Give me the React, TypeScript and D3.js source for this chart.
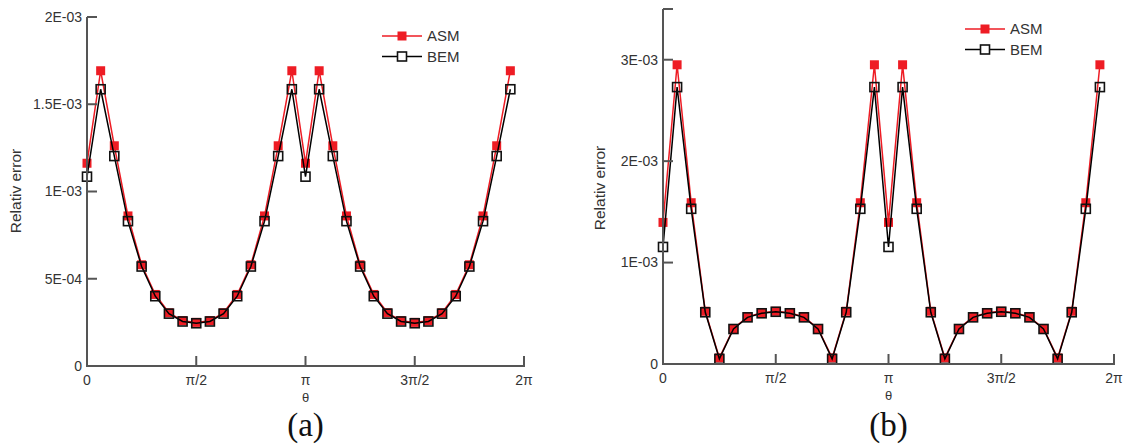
import React from "react";
import * as d3 from "d3";

// theta / pi for each sample point
const thetaOverPi = [
  0, 0.0625, 0.125, 0.1875, 0.25, 0.3125, 0.375, 0.4375, 0.5, 0.5625, 0.625, 0.6875, 0.75, 0.8125, 0.875, 0.9375,
  1, 1.0625, 1.125, 1.1875, 1.25, 1.3125, 1.375, 1.4375, 1.5, 1.5625, 1.625, 1.6875, 1.75, 1.8125, 1.875, 1.9375,
];

// (a) relative error, units of 1e-3
const asmA = [
  1.162, 1.692, 1.262, 0.86, 0.58, 0.41, 0.305, 0.26, 0.25, 0.26, 0.305, 0.41, 0.58, 0.86, 1.262, 1.692,
  1.162, 1.692, 1.262, 0.86, 0.58, 0.41, 0.305, 0.26, 0.25, 0.26, 0.305, 0.41, 0.58, 0.86, 1.262, 1.692,
];
const bemA = [
  1.085, 1.586, 1.203, 0.83, 0.57, 0.4, 0.3, 0.255, 0.245, 0.255, 0.3, 0.4, 0.57, 0.83, 1.203, 1.586,
  1.085, 1.586, 1.203, 0.83, 0.57, 0.4, 0.3, 0.255, 0.245, 0.255, 0.3, 0.4, 0.57, 0.83, 1.203, 1.586,
];

// (b) relative error, units of 1e-3
const asmB = [
  1.396, 2.95, 1.59, 0.52, 0.06, 0.35, 0.465, 0.505, 0.52, 0.505, 0.465, 0.35, 0.06, 0.52, 1.59, 2.95,
  1.396, 2.95, 1.59, 0.52, 0.06, 0.35, 0.465, 0.505, 0.52, 0.505, 0.465, 0.35, 0.06, 0.52, 1.59, 2.95,
];
const bemB = [
  1.154, 2.73, 1.53, 0.51, 0.05, 0.345, 0.46, 0.5, 0.515, 0.5, 0.46, 0.345, 0.05, 0.51, 1.53, 2.73,
  1.154, 2.73, 1.53, 0.51, 0.05, 0.345, 0.46, 0.5, 0.515, 0.5, 0.46, 0.345, 0.05, 0.51, 1.53, 2.73,
];

const xTickValues = [0, 0.5, 1, 1.5, 2];
const xTickLabels = ["0", "π/2", "π", "3π/2", "2π"];
const yTicksA = [0, 0.5, 1, 1.5, 2];
const yTickLabelsA = ["0", "5E-04", "1E-03", "1.5E-03", "2E-03"];
const yTicksB = [0, 1, 2, 3, 3.5];
const yTickLabelsB = ["0", "1E-03", "2E-03", "3E-03", ""];
const seriesNames = ["ASM", "BEM"];

const RED = "#ee1c24";
const AXIS = "#555";
const TEXT = "#333";
const SANS = "'Liberation Sans', Arial, Helvetica, sans-serif";

type PanelProps = {
  x0: number;
  x1: number;
  y0: number;
  y1: number;
  yMax: number;
  asm: number[];
  bem: number[];
  yTicks: number[];
  yLabels: string[];
  legendX: number;
  legendY: number;
  titleX: number;
  titleY: number;
  tag: string;
};

function Panel(p: PanelProps) {
  const xs = d3.scaleLinear().domain([0, 2]).range([p.x0, p.x1]);
  const ys = d3.scaleLinear().domain([0, p.yMax]).range([p.y0, p.y1]);
  const line = d3
    .line<number>()
    .x((_, i) => xs(thetaOverPi[i]))
    .y((d) => ys(d));
  const tick = 10;
  const legRow = 20.5;
  return (
    <g>
      {/* series */}
      <path d={line(p.asm) || ""} fill="none" stroke={RED} strokeWidth={1.5} />
      {p.asm.map((v, i) => (
        <rect key={"a" + i} x={xs(thetaOverPi[i]) - 4.5} y={ys(v) - 4.5} width={9} height={9} fill={RED} />
      ))}
      <path d={line(p.bem) || ""} fill="none" stroke="#000" strokeWidth={1.5} />
      {p.bem.map((v, i) => (
        <rect
          key={"b" + i}
          x={xs(thetaOverPi[i]) - 4.5}
          y={ys(v) - 4.5}
          width={9}
          height={9}
          fill="none"
          stroke="#111"
          strokeWidth={1.6}
        />
      ))}
      {/* axes */}
      <line x1={p.x0} x2={p.x0} y1={p.y0 + 1} y2={ys(p.yMax)} stroke={AXIS} strokeWidth={2} />
      <line x1={p.x0 - 1} x2={p.x1 + 1} y1={p.y0} y2={p.y0} stroke={AXIS} strokeWidth={2} />
      {p.yTicks.map((t, i) => (
        <g key={"yt" + i}>
          {t > 0 && <line x1={p.x0} x2={p.x0 + tick} y1={ys(t)} y2={ys(t)} stroke={AXIS} strokeWidth={2} />}
          <text
            x={p.x0 - 5}
            y={ys(t)}
            dy="0.35em"
            textAnchor="end"
            fontFamily={SANS}
            fontSize={14}
            fill={TEXT}
          >
            {p.yLabels[i]}
          </text>
        </g>
      ))}
      {xTickValues.map((t, i) => (
        <g key={"xt" + i}>
          {t > 0 && <line x1={xs(t)} x2={xs(t)} y1={p.y0} y2={p.y0 - tick} stroke={AXIS} strokeWidth={2} />}
          <text x={xs(t)} y={p.y0 + 19} textAnchor="middle" fontFamily={SANS} fontSize={14} fill={TEXT}>
            {xTickLabels[i]}
          </text>
        </g>
      ))}
      <text
        transform={`translate(${p.titleX},${p.titleY}) rotate(-90)`}
        textAnchor="middle"
        fontFamily={SANS}
        fontSize={15.5}
        fill={TEXT}
      >
        Relativ error
      </text>
      <text x={xs(1)} y={p.y0 + 36} textAnchor="middle" fontFamily={SANS} fontSize={13} fill={TEXT}>
        θ
      </text>
      <text x={xs(1)} y={436} textAnchor="middle" fontFamily="'Liberation Serif', 'Times New Roman', serif" fontSize={33} fill="#111">
        {p.tag}
      </text>
      {/* legend */}
      {seriesNames.map((name, i) => {
        const ly = p.legendY + i * legRow;
        const isAsm = i === 0;
        return (
          <g key={name}>
            <line x1={p.legendX} x2={p.legendX + 40} y1={ly} y2={ly} stroke={isAsm ? RED : "#000"} strokeWidth={1.6} />
            {isAsm ? (
              <rect x={p.legendX + 15.5} y={ly - 4.5} width={9} height={9} fill={RED} />
            ) : (
              <rect x={p.legendX + 15.5} y={ly - 4.5} width={9} height={9} fill="#fff" stroke="#111" strokeWidth={1.6} />
            )}
            <text x={p.legendX + 45} y={ly} dy="0.35em" fontFamily={SANS} fontSize={15} fill={TEXT}>
              {name}
            </text>
          </g>
        );
      })}
    </g>
  );
}

export default function App() {
  return (
    <svg width={1124} height={448} style={{ position: "absolute", left: 0, top: 0, background: "#fff" }}>
      <rect width={1124} height={448} fill="#fff" />
      <Panel
        x0={87}
        x1={524}
        y0={366}
        y1={17}
        yMax={2}
        asm={asmA}
        bem={bemA}
        yTicks={yTicksA}
        yLabels={yTickLabelsA}
        legendX={382}
        legendY={36}
        titleX={21}
        titleY={191}
        tag="(a)"
      />
      <Panel
        x0={663}
        x1={1114}
        y0={364}
        y1={9}
        yMax={3.5}
        asm={asmB}
        bem={bemB}
        yTicks={yTicksB}
        yLabels={yTickLabelsB}
        legendX={965}
        legendY={29}
        titleX={605}
        titleY={188}
        tag="(b)"
      />
    </svg>
  );
}
